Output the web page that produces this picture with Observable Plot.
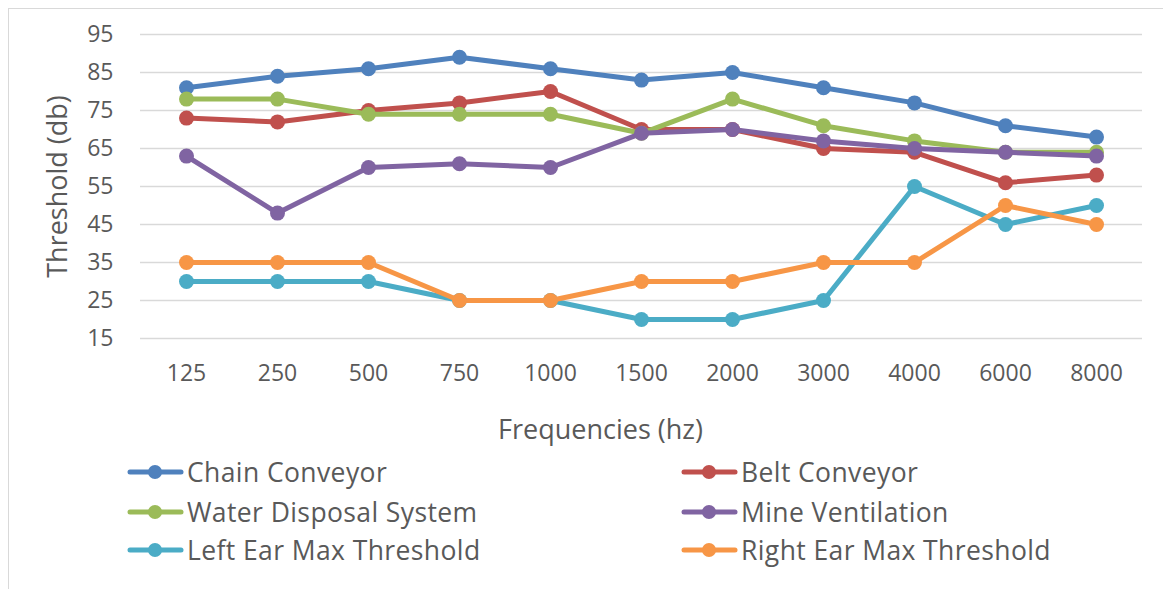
<!DOCTYPE html>
<html><head><meta charset="utf-8">
<script src="https://cdn.jsdelivr.net/npm/d3@7"></script>
<script src="https://cdn.jsdelivr.net/npm/@observablehq/plot@0.6"></script>
<style>
body{margin:0;background:#fff;font-family:"Open Sans",sans-serif;color:#595959;}
#wrap{position:relative;width:1163px;height:589px;overflow:hidden;background:#fff;}
#border{position:absolute;left:8px;top:8px;width:1170px;height:600px;border:1px solid #d9d9d9;box-sizing:border-box;}
#chart{position:absolute;left:0;top:0;}
.item{position:absolute;height:40px;display:flex;align-items:center;font-size:26.5px;letter-spacing:0.4px;color:#595959;white-space:nowrap;}
.item svg{margin-right:3px;}
</style></head>
<body>
<div id="wrap"><div id="border"></div><div id="chart"></div><div id="legend"></div></div>
<script>
const frequencies = ["125","250","500","750","1000","1500","2000","3000","4000","6000","8000"];
const seriesNames = ["Chain Conveyor","Belt Conveyor","Water Disposal System","Mine Ventilation","Left Ear Max Threshold","Right Ear Max Threshold"];
const chainConveyor = [81,84,86,89,86,83,85,81,77,71,68];
const beltConveyor = [73,72,75,77,80,70,70,65,64,56,58];
const waterDisposal = [78,78,74,74,74,69,78,71,67,64,64];
const mineVentilation = [63,48,60,61,60,69,70,67,65,64,63];
const leftEar = [30,30,30,25,25,20,20,25,55,45,50];
const rightEar = [35,35,35,25,25,30,30,35,35,50,45];
const yTicks = [15,25,35,45,55,65,75,85,95];
const colors = ["#4F81BD","#C0504D","#9BBB59","#8064A2","#4BACC6","#F79646"];

const allValues = [chainConveyor,beltConveyor,waterDisposal,mineVentilation,leftEar,rightEar];
const data = [];
seriesNames.forEach((s,i)=>frequencies.forEach((f,j)=>data.push({series:s,freq:f,value:allValues[i][j]})));

const marks = [
  Plot.gridY(yTicks,{stroke:"#d9d9d9",strokeOpacity:1,strokeWidth:1.5}),
  Plot.axisY(yTicks,{tickSize:0,tickPadding:27,label:null,fontSize:23,fill:"#595959"}),
  Plot.axisX({tickSize:0,tickPadding:26,label:null,fontSize:23,fill:"#595959"}),
  Plot.text(["Threshold (db)"],{frameAnchor:"left",textAnchor:"middle",lineAnchor:"middle",rotate:-90,dx:-82,fontSize:27,fill:"#595959"}),
  Plot.text(["Frequencies (hz)"],{frameAnchor:"bottom",textAnchor:"middle",lineAnchor:"middle",dx:-41,dy:92,fontSize:27,fill:"#595959"})
];
seriesNames.forEach((s,i)=>{
  const d = data.filter(r=>r.series===s);
  marks.push(Plot.line(d,{x:"freq",y:"value",stroke:colors[i],strokeWidth:5}));
  marks.push(Plot.dot(d,{x:"freq",y:"value",fill:colors[i],r:7.5}));
});

const chart = Plot.plot({
  width:1163, height:450,
  marginLeft:140, marginRight:21, marginTop:34, marginBottom:112,
  style:{fontFamily:"Open Sans",background:"transparent",color:"#595959",overflow:"visible"},
  x:{type:"point",domain:frequencies,padding:0.5},
  y:{domain:[15,95]},
  marks
});
document.getElementById("chart").appendChild(chart);

const legend = document.getElementById("legend");
const colX = [127,681];
const rowY = [472,512,550];
seriesNames.forEach((s,i)=>{
  const el = document.createElement("div");
  el.className="item";
  el.style.left = colX[i%2]+"px";
  el.style.top = (rowY[Math.floor(i/2)]-20)+"px";
  el.innerHTML = `<svg width="57" height="18"><line x1="3" y1="9" x2="54" y2="9" stroke="${colors[i]}" stroke-width="5" stroke-linecap="round"/><circle cx="28" cy="9" r="7" fill="${colors[i]}"/></svg><span>${s}</span>`;
  legend.appendChild(el);
});
</script>
</body></html>
